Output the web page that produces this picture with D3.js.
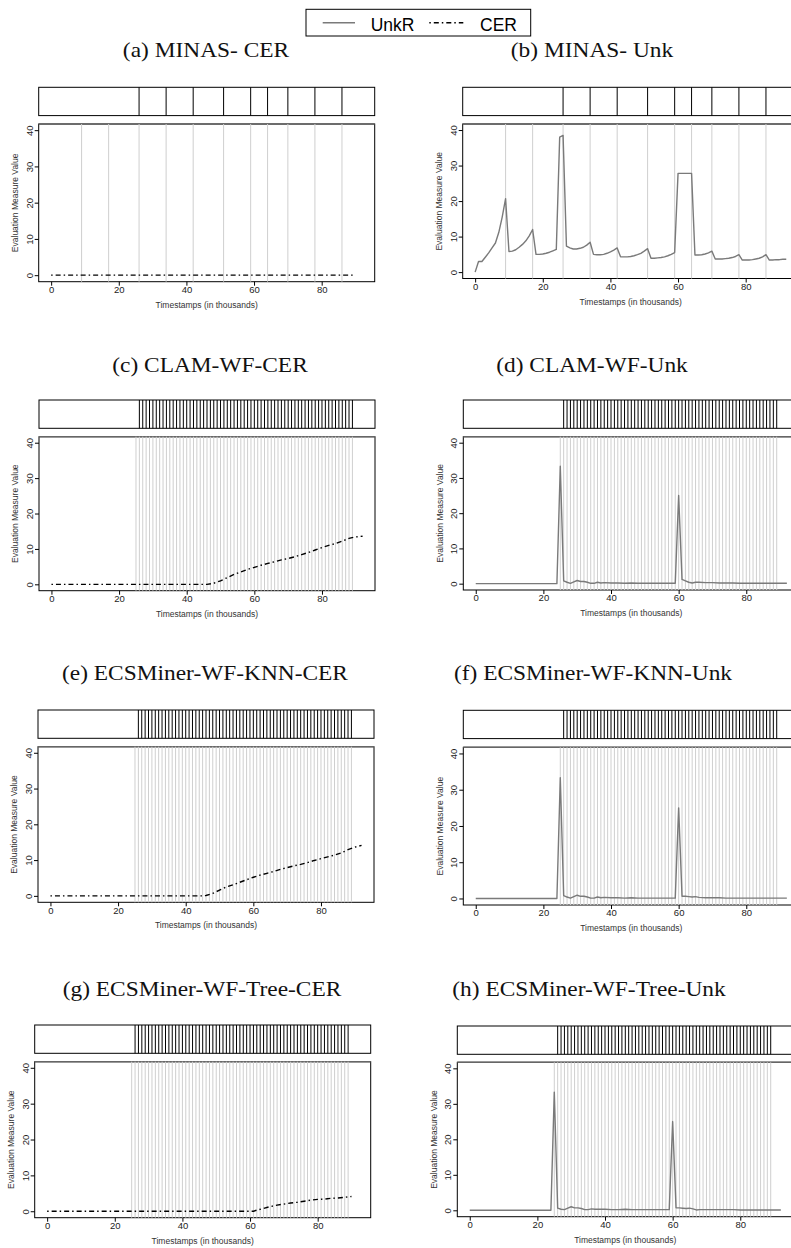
<!DOCTYPE html>
<html><head><meta charset="utf-8">
<script src="https://cdn.jsdelivr.net/npm/d3@7"></script>
<style>body{margin:0;background:#fff;} svg{display:block;}</style>
</head><body>
<svg id="chart" width="791" height="1248"></svg>
<script>
// ---------- data ----------
const xTicks = [0, 20, 40, 60, 80];
const yTicks = [0, 10, 20, 30, 40];
const legendLabels = ["UnkR", "CER"];

const minasEvents = [9, 17, 26, 34, 42, 51, 59, 64, 70, 78, 86];
const minasNovelty = [26, 34, 42, 51, 59, 64, 70, 78, 86];
const wfEvents = [25,26,27,28,29,30,31,32,33,34,35,36,37,38,39,40,41,42,43,44,45,46,47,48,49,50,51,52,53,54,55,56,57,58,59,60,61,62,63,64,65,66,67,68,69,70,71,72,73,74,75,76,77,78,79,80,81,82,83,84,85,86,87,88,89];
const wfNovelty = [26,27,28,29,30,31,32,33,34,35,36,37,38,39,40,41,42,43,44,45,46,47,48,49,50,51,52,53,54,55,56,57,58,59,60,61,62,63,64,65,66,67,68,69,70,71,72,73,74,75,76,77,78,79,80,81,82,83,84,85,86,87,88,89];

const minasCerX = [0, 90];
const minasCerY = [0, 0];

const minasUnkX = [0,1,2,3,4,5,6,7,8,9,10,11,12,13,14,15,16,17,18,19,20,21,22,23,24,25,26,27,28,29,30,31,32,33,34,35,36,37,38,39,40,41,42,43,44,45,46,47,48,49,50,51,52,53,54,55,56,57,58,59,60,61,62,63,64,65,66,67,68,69,70,71,72,73,74,75,76,77,78,79,80,81,82,83,84,85,86,87,88,89,90,91,92];
const minasUnkY = [0,3.0,3.0,4.2,5.4,6.8,8.2,11.2,15.5,20.7,
  5.8,5.9,6.3,7.0,7.8,8.8,10.2,12.0,
  5.0,5.0,5.1,5.3,5.6,6.0,6.4,
  38.0,38.5,
  7.3,6.8,6.5,6.5,6.7,7.0,7.6,8.4,
  5.0,4.9,4.9,5.0,5.3,5.7,6.2,6.8,
  4.3,4.3,4.3,4.4,4.6,4.9,5.3,5.9,6.6,
  3.9,3.9,4.0,4.1,4.3,4.6,5.0,5.5,
  27.8,27.8,27.8,27.8,27.8,
  4.8,4.8,4.9,5.1,5.4,5.9,
  3.7,3.7,3.7,3.8,3.9,4.1,4.4,4.9,
  3.4,3.4,3.4,3.5,3.7,3.9,4.3,4.9,
  3.4,3.4,3.5,3.5,3.6,3.6];

const clamCerX = [0,46,48,50,52,54,56,58,60,62,64,66,68,70,72,74,76,78,80,82,84,86,88,90,92];
const clamCerY = [0,0,0.3,1.0,1.9,2.8,3.5,4.2,4.8,5.4,5.9,6.4,6.9,7.3,7.8,8.4,9.0,9.7,10.4,11.0,11.5,12.2,13.0,13.4,13.6];

const knnCerX = [0,45,46,48,50,52,54,56,58,60,62,64,66,68,70,72,74,76,78,80,82,84,86,88,90,92];
const knnCerY = [0,0,0.1,0.7,1.6,2.5,3.1,3.8,4.5,5.2,5.8,6.3,6.8,7.4,7.9,8.4,8.8,9.3,9.9,10.4,10.9,11.4,12.0,12.9,13.6,14.1];

const treeCerX = [0,61,62,64,66,68,70,72,74,76,78,80,82,84,86,88,90];
const treeCerY = [0,0,0.3,0.8,1.3,1.7,2.0,2.3,2.5,2.8,3.1,3.3,3.4,3.6,3.7,3.9,4.1];

const clamUnkX = [0,24,25,26,27,28,29,30,31,32,33,34,35,36,37,38,40,42,44,46,48,50,52,54,56,58,59,60,61,62,63,64,65,66,68,70,72,74,76,78,80,84,88,92];
const clamUnkY = [0,0,33.3,0.8,0.4,0.1,0.5,0.9,0.6,0.6,0.4,0.1,0.1,0.4,0.2,0.3,0.2,0.2,0.1,0.2,0.1,0.1,0.1,0.1,0.1,0.1,0.1,25.0,1.2,0.8,0.4,0.2,0.4,0.4,0.3,0.3,0.2,0.2,0.2,0.1,0.1,0.1,0.1,0.1];

const knnUnkX = [0,24,25,26,27,28,29,30,31,32,33,34,35,36,37,38,40,42,44,46,48,50,52,54,56,58,59,60,61,62,63,64,65,66,68,70,72,74,76,78,80,84,88,92];
const knnUnkY = [0,0,33.3,0.8,0.4,0.1,0.5,0.9,0.6,0.6,0.4,0.1,0.1,0.4,0.2,0.3,0.2,0.2,0.1,0.2,0.1,0.1,0.1,0.1,0.1,0.1,0.1,25.0,0.6,0.6,0.5,0.4,0.5,0.3,0.2,0.2,0.2,0.1,0.1,0.1,0.1,0.1,0.1,0.1];

const treeUnkX = [0,24,25,26,27,28,29,30,31,32,33,34,35,36,37,38,40,42,44,46,48,50,52,54,56,58,59,60,61,62,63,64,65,66,67,68,70,72,74,76,78,80,84,88,92];
const treeUnkY = [0,0,33.3,0.6,0.3,0.2,0.6,1.0,0.7,0.7,0.5,0.2,0.2,0.4,0.3,0.3,0.3,0.2,0.2,0.3,0.2,0.2,0.2,0.2,0.2,0.2,0.2,25.0,0.7,0.7,0.6,0.5,0.6,0.4,0.1,0.2,0.2,0.2,0.2,0.2,0.2,0.1,0.1,0.1,0.1];

const panels = [
  {title: "(a) MINAS- CER", events: minasEvents, novelty: minasNovelty, kind: "CER", xs: minasCerX, ys: minasCerY},
  {title: "(b) MINAS- Unk", events: minasEvents, novelty: minasNovelty, kind: "UnkR", xs: minasUnkX, ys: minasUnkY},
  {title: "(c) CLAM-WF-CER", events: wfEvents, novelty: wfNovelty, kind: "CER", xs: clamCerX, ys: clamCerY},
  {title: "(d) CLAM-WF-Unk", events: wfEvents, novelty: wfNovelty, kind: "UnkR", xs: clamUnkX, ys: clamUnkY},
  {title: "(e) ECSMiner-WF-KNN-CER", events: wfEvents, novelty: wfNovelty, kind: "CER", xs: knnCerX, ys: knnCerY},
  {title: "(f) ECSMiner-WF-KNN-Unk", events: wfEvents, novelty: wfNovelty, kind: "UnkR", xs: knnUnkX, ys: knnUnkY},
  {title: "(g) ECSMiner-WF-Tree-CER", events: wfEvents, novelty: wfNovelty, kind: "CER", xs: treeCerX, ys: treeCerY},
  {title: "(h) ECSMiner-WF-Tree-Unk", events: wfEvents, novelty: wfNovelty, kind: "UnkR", xs: treeUnkX, ys: treeUnkY}
];

// ---------- layout (positions only) ----------
const layout = [
  {left: 38.7,  titleX: 206, titleY: 57,   boxTop: 87.3,  plotTop: 124,   plotBottom: 281.7},
  {left: 462.7, titleX: 592, titleY: 57,   boxTop: 87.3,  plotTop: 124,   plotBottom: 278.5},
  {left: 39,    titleX: 210, titleY: 372,  boxTop: 400,   plotTop: 436.7, plotBottom: 590.7},
  {left: 463.3, titleX: 592, titleY: 372,  boxTop: 400,   plotTop: 436.7, plotBottom: 590},
  {left: 38,    titleX: 205, titleY: 680,  boxTop: 710,   plotTop: 746.7, plotBottom: 902.3},
  {left: 463.3, titleX: 593, titleY: 680,  boxTop: 710.3, plotTop: 747.3, plotBottom: 905},
  {left: 34.7,  titleX: 202, titleY: 996,  boxTop: 1025,  plotTop: 1061.7, plotBottom: 1217.7},
  {left: 457.3, titleX: 589, titleY: 996,  boxTop: 1026,  plotTop: 1062.3, plotBottom: 1216.7}
];
const W = 336, boxH = 28.3;
const sans = "'Liberation Sans', Arial, sans-serif";
const serif = "'Liberation Serif', 'Times New Roman', serif";
const dashDot = "1.5,3,5,3";

const svg = d3.select("#chart");

panels.forEach((p, i) => {
  const L = layout[i];
  const x = d3.scaleLinear().domain([-3.68, 95.68]).range([L.left, L.left + W]);
  const y = d3.scaleLinear().domain([-1.8, 41.7]).range([L.plotBottom, L.plotTop]);
  const g = svg.append("g");

  g.append("text").attr("transform", `translate(${L.titleX},${L.titleY}) scale(1.17,1)`)
    .attr("text-anchor", "middle").attr("font-family", serif).attr("font-size", 20)
    .attr("fill", "#111").text(p.title);

  // novelty box
  g.append("rect").attr("x", L.left).attr("y", L.boxTop).attr("width", W).attr("height", boxH)
    .attr("fill", "none").attr("stroke", "#000").attr("stroke-width", 1);
  g.selectAll(null).data(p.novelty).enter().append("line")
    .attr("x1", d => x(d)).attr("x2", d => x(d))
    .attr("y1", L.boxTop).attr("y2", L.boxTop + boxH)
    .attr("stroke", "#000").attr("stroke-width", 1);

  // plot frame
  g.append("rect").attr("x", L.left).attr("y", L.plotTop).attr("width", W).attr("height", L.plotBottom - L.plotTop)
    .attr("fill", "none").attr("stroke", "#000").attr("stroke-width", 1);
  g.append("line").attr("x1", L.left).attr("x2", L.left + W).attr("y1", L.plotTop).attr("y2", L.plotTop)
    .attr("stroke", "#666").attr("stroke-width", 1.6);

  // event lines
  g.selectAll(null).data(p.events).enter().append("line")
    .attr("x1", d => x(d)).attr("x2", d => x(d))
    .attr("y1", L.plotTop).attr("y2", L.plotBottom)
    .attr("stroke", "#cfcfcf").attr("stroke-width", 1);

  // axes
  const xa = g.append("g").attr("transform", `translate(0,${L.plotBottom})`)
    .call(d3.axisBottom(x).tickValues(xTicks).tickSize(4).tickPadding(0.5));
  xa.select(".domain").remove();
  xa.selectAll("text").attr("font-family", sans).attr("font-size", 9.5).attr("fill", "#222");
  xa.selectAll("line").attr("stroke", "#000");

  const ya = g.append("g").attr("transform", `translate(${L.left},0)`)
    .call(d3.axisLeft(y).tickValues(yTicks).tickSize(4));
  ya.select(".domain").remove();
  ya.selectAll("line").attr("stroke", "#000");
  ya.selectAll("text").attr("font-family", sans).attr("font-size", 9.5).attr("fill", "#222")
    .attr("text-anchor", "middle").attr("x", 0).attr("y", -6).attr("dy", null)
    .attr("transform", "rotate(-90)");

  g.append("text").attr("transform", `translate(${L.left - 20.7},${(L.plotTop + L.plotBottom) / 2}) rotate(-90)`)
    .attr("text-anchor", "middle").attr("font-family", sans).attr("font-size", 8.5).attr("fill", "#333")
    .text("Evaluation Measure Value");
  g.append("text").attr("x", L.left + W / 2).attr("y", L.plotBottom + 26)
    .attr("text-anchor", "middle").attr("font-family", sans).attr("font-size", 8.5).attr("fill", "#333")
    .text("Timestamps (in thousands)");

  // series
  const pts = p.xs.map((v, k) => [v, p.ys[k]]);
  const line = d3.line().x(d => x(d[0])).y(d => y(d[1]));
  const path = g.append("path").datum(pts).attr("d", line).attr("fill", "none");
  if (p.kind === "CER") {
    path.attr("stroke", "#000").attr("stroke-width", 1.4).attr("stroke-dasharray", dashDot);
  } else {
    path.attr("stroke", "#7a7a7a").attr("stroke-width", 1.4).attr("stroke-linejoin", "round");
  }
});

// legend
const lg = svg.append("g");
lg.append("rect").attr("x", 306).attr("y", 9.3).attr("width", 224.7).attr("height", 26.7)
  .attr("fill", "#fff").attr("stroke", "#000").attr("stroke-width", 1);
lg.append("line").attr("x1", 322.7).attr("x2", 355).attr("y1", 22.7).attr("y2", 22.7)
  .attr("stroke", "#7a7a7a").attr("stroke-width", 1.4);
lg.append("text").attr("x", 370.7).attr("y", 30.5).attr("font-family", sans).attr("font-size", 17.5)
  .attr("fill", "#000").text(legendLabels[0]);
lg.append("line").attr("x1", 429.3).attr("x2", 463.3).attr("y1", 22.7).attr("y2", 22.7)
  .attr("stroke", "#000").attr("stroke-width", 1.4).attr("stroke-dasharray", dashDot);
lg.append("text").attr("x", 480).attr("y", 30.5).attr("font-family", sans).attr("font-size", 17.5)
  .attr("fill", "#000").text(legendLabels[1]);
</script>
</body></html>
